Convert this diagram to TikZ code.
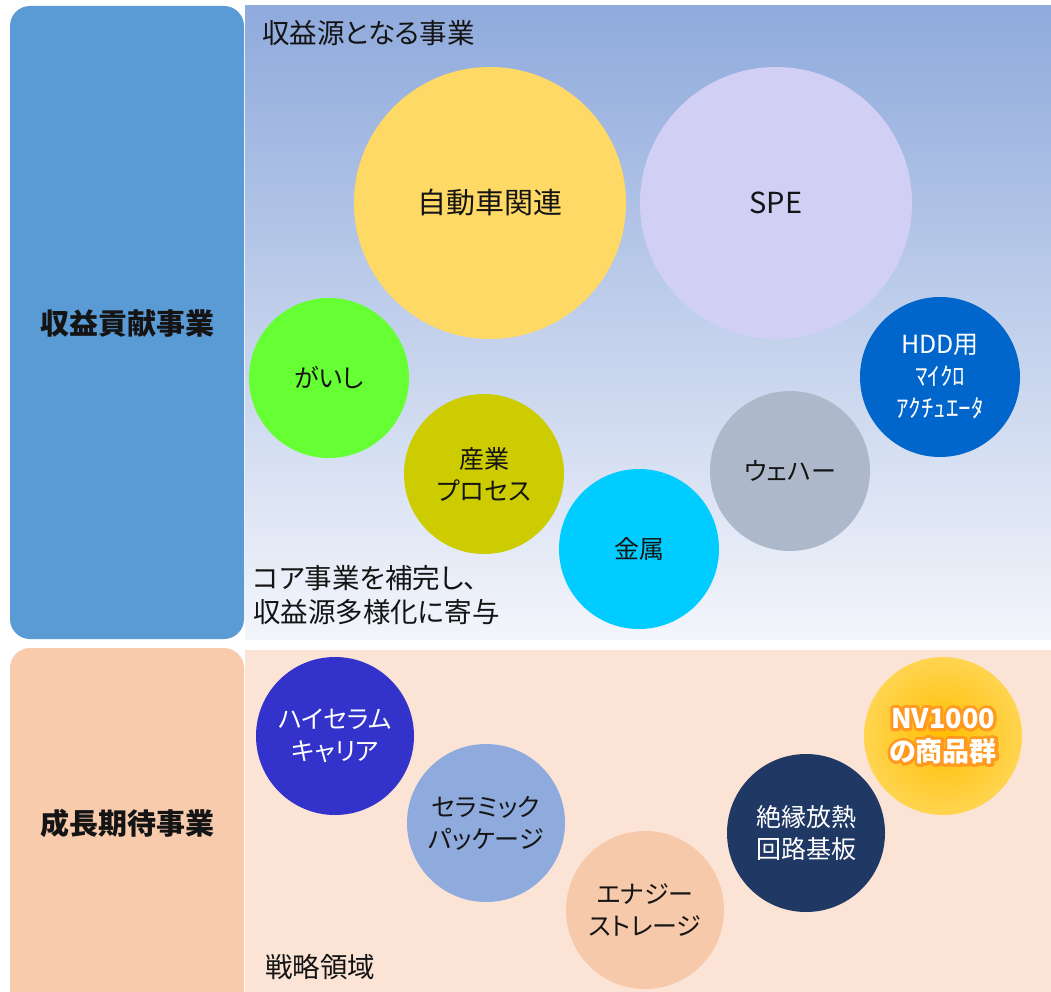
\documentclass[tikz,border=0pt]{standalone}
\usepackage{fontspec}
\setmainfont{Noto Sans CJK JP}[RawFeature=+palt]
\usetikzlibrary{calc}
\definecolor{panelblue}{RGB}{91,155,213}
\definecolor{gradtop}{RGB}{143,170,220}
\definecolor{gradmid}{RGB}{206,216,238}
\definecolor{gradbot}{RGB}{243,245,251}
\definecolor{panelpeach}{RGB}{248,203,173}
\definecolor{lightpeach}{RGB}{251,228,214}
\definecolor{cyellow}{RGB}{255,217,102}
\definecolor{clav}{RGB}{210,207,245}
\definecolor{cgreen}{RGB}{102,255,51}
\definecolor{colive}{RGB}{204,204,0}
\definecolor{ccyan}{RGB}{0,204,255}
\definecolor{cgray}{RGB}{173,185,202}
\definecolor{cblue}{RGB}{0,102,204}
\definecolor{cviolet}{RGB}{51,51,204}
\definecolor{csteel}{RGB}{143,170,220}
\definecolor{cpeach}{RGB}{247,201,171}
\definecolor{cnavy}{RGB}{31,56,100}
\definecolor{goldin}{RGB}{255,190,0}
\definecolor{goldout}{RGB}{255,212,80}
\definecolor{txt}{RGB}{20,20,20}
\newcommand\glowline[1]{\special{pdf:literal direct q 1 j 1 J 6 w 1 0.6 0.12 RG 1 0.6 0.12 rg 2 Tr}#1\special{pdf:literal direct 0 Tr Q}}
\begin{document}
\begin{tikzpicture}[x=1pt,y=-1pt,
  bubble/.style={circle,inner sep=0pt,minimum size=160pt,align=center,text=txt,
    font=\fontsize{25}{32}\selectfont},
  big/.style={bubble,minimum size=272pt,font=\fontsize{29}{36}\selectfont},
  wtxt/.style={text=white},
  label/.style={anchor=west,inner sep=0pt,text=txt,align=left,
    font=\fontsize{27.5}{34}\selectfont},
  side/.style={inner sep=0pt,text=txt,font=\bfseries\fontsize{29}{34}\selectfont},
  nvtxt/.style={align=center,inner sep=0pt,text=white,
    font=\bfseries\fontsize{27}{33}\selectfont}]
\useasboundingbox (0,0) rectangle (1051,992);
\clip (0,0) rectangle (1051,992);
\fill[white] (0,0) rectangle (1051,992);
% top panels
\shade[top color=gradtop,middle color=gradmid,bottom color=gradbot] (245,6) rectangle (1051,639);
\fill[panelblue,rounded corners=20pt] (10,6) rectangle (244,639);
% bottom panels
\fill[lightpeach] (245,650) rectangle (1051,992);
\fill[panelpeach,rounded corners=20pt] (10,648) rectangle (244,1030);
% side labels
\node[side] (s1) at (127,324) {収益貢献事業};
\node[side] (s2) at (127,823) {成長期待事業};
% region labels
\node[label] (l1) at (262,33) {収益源となる事業};
\node[label] (l2) at (253,595) {コア事業を補完し、\\収益源多様化に寄与};
\node[label] (l3) at (265,967) {戦略領域};
% top bubbles
\node[big,fill=cyellow] (car) at (490,203) {自動車関連};
\node[big,fill=clav] (spe) at (776,203) {SPE};
\node[bubble,fill=cgreen] (gaishi) at (329,378) {がいし};
\node[bubble,fill=colive] (sangyo) at (484,474) {産業\\プロセス};
\node[bubble,fill=ccyan] (kinzoku) at (639,549) {金属};
\node[bubble,fill=cgray] (wafer) at (790,471) {ウェハー};
\node[bubble,fill=cblue,wtxt] (hdd) at (940,377) {HDD用\\ﾏｲｸﾛ\\ｱｸﾁｭｴｰﾀ};
% bottom bubbles
\node[bubble,minimum size=158pt,fill=cviolet,wtxt] (hicera) at (335,736) {ハイセラム\\キャリア};
\node[bubble,minimum size=158pt,fill=csteel] (ceramic) at (486,823) {セラミック\\パッケージ};
\node[bubble,minimum size=158pt,fill=cpeach] (energy) at (645,910) {エナジー\\ストレージ};
\node[bubble,minimum size=158pt,fill=cnavy,wtxt] (zetsuen) at (806,833) {絶縁放熱\\回路基板};
\node[bubble,minimum size=158pt,inner color=goldin,outer color=goldout] (nv) at (943,736) {};
\node[nvtxt] (nvg) at (nv.center) {\glowline{NV1000}\\\glowline{の商品群}};
\node[nvtxt] (nvt) at (nv.center) {NV1000\\の商品群};
\end{tikzpicture}
\end{document}
